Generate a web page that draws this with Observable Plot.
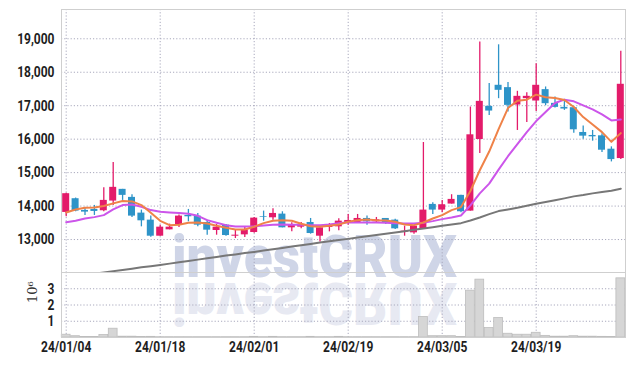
<!DOCTYPE html>
<html><head><meta charset="utf-8">
<script src="https://cdn.jsdelivr.net/npm/d3@7"></script>
<script src="https://cdn.jsdelivr.net/npm/@observablehq/plot@0.6"></script>
<style>
body{margin:0;background:#fff;}
#wrap{position:relative;width:634px;height:366px;overflow:hidden;background:#fff;}
#wm{position:absolute;left:0;top:0;}
#main,#vol{position:absolute;left:0;}
#main{top:0;} #vol{top:272px;}
</style></head><body>
<div id="wrap">
<svg id="wm" width="634" height="366">
  <text x="172" y="277" textLength="285" lengthAdjust="spacingAndGlyphs" font-family="Roboto" font-weight="900" font-size="60" fill="#cfd5e7">investCRUX</text>
  <text transform="translate(0,560) scale(1,-1)" x="172" y="277" textLength="285" lengthAdjust="spacingAndGlyphs" font-family="Roboto" font-weight="900" font-size="60" fill="#e7e9f2">investCRUX</text>
</svg>
<div id="main"></div><div id="vol"></div>
</div>
<script>
const dates = ["24/01/04","24/01/05","24/01/08","24/01/09","24/01/10","24/01/11","24/01/12","24/01/15","24/01/16","24/01/17",
"24/01/18","24/01/19","24/01/22","24/01/23","24/01/24","24/01/25","24/01/26","24/01/29","24/01/30","24/01/31",
"24/02/01","24/02/02","24/02/05","24/02/06","24/02/07","24/02/08","24/02/13","24/02/14","24/02/15","24/02/16",
"24/02/19","24/02/20","24/02/21","24/02/22","24/02/23","24/02/26","24/02/27","24/02/28","24/02/29","24/03/04",
"24/03/05","24/03/06","24/03/07","24/03/08","24/03/11","24/03/12","24/03/13","24/03/14","24/03/15","24/03/18",
"24/03/19","24/03/20","24/03/21","24/03/22","24/03/25","24/03/26","24/03/27","24/03/28","24/03/29","24/04/01"];

const opens = [13810,14220,13870,13900,13860,14150,14500,14260,13790,13580,
13100,13290,13430,13720,13700,13510,13270,13430,13100,13140,
13210,13680,13650,13760,13350,13370,13510,13100,13360,13380,
13480,13500,13630,13530,13630,13580,13210,13200,13300,14050,
13880,14060,14320,13850,15990,16980,17610,17540,17020,17210,
17140,17480,17070,16950,16940,16200,16110,16100,15700,15420];
const highs = [14380,14240,13950,14020,14550,15300,14500,14340,13880,13700,
13430,13460,13730,13900,13780,13580,13450,13450,13300,13380,
13660,13850,13920,13830,13500,13510,13630,13350,13480,13620,
13750,13750,13700,13660,13630,13610,13400,13400,15900,14100,
14170,14340,14320,16960,18900,17660,18820,17690,17430,17390,
18250,17560,17260,17190,16960,16390,16260,16160,15770,18630];
const lows = [13680,13830,13720,13720,13830,14020,14170,13660,13380,13070,
13100,13290,13360,13530,13380,13130,13130,13100,13030,13060,
13190,13550,13580,13350,13230,13320,13160,12930,13230,13260,
13430,13500,13430,13500,13450,13300,13100,13160,13300,13750,
13800,14060,13800,13850,15570,16710,17210,16810,16260,16500,
16830,17000,16930,16860,16180,16000,15940,15600,15320,15390];
const closes = [14370,13850,13820,13840,14170,14560,14320,13700,13560,13100,
13370,13370,13700,13680,13430,13280,13370,13120,13130,13280,
13640,13660,13780,13350,13430,13430,13180,13350,13400,13550,
13570,13630,13530,13590,13500,13320,13250,13400,13880,13880,
14040,14200,13830,16130,17130,16840,17460,17010,17280,17280,
17610,17060,16950,16900,16280,16090,16070,15670,15390,17640];
const ma5 = [13810,13900,13950,13960,14000,14080,14150,14140,14030,13800,
13560,13430,13440,13500,13510,13480,13410,13350,13300,13300,
13380,13490,13560,13580,13560,13470,13400,13380,13410,13450,
13530,13580,13600,13580,13570,13530,13450,13430,13510,13630,
13730,13880,13970,14450,15070,15630,16300,16930,17150,17180,
17330,17250,17230,17170,16960,16660,16440,16210,15920,16180];
const ma10 = [13520,13560,13630,13670,13730,13900,14030,14050,13980,13880,
13830,13810,13790,13770,13710,13580,13500,13430,13390,13390,
13400,13420,13440,13450,13440,13440,13430,13430,13450,13490,
13520,13510,13510,13510,13500,13490,13480,13480,13500,13550,
13610,13660,13720,14020,14380,14670,15090,15490,15850,16210,
16540,16810,17080,17180,17130,17010,16890,16740,16560,16590];
const ma60 = [11860,11900,11940,11980,12015,12055,12090,12130,12170,12205,
12240,12280,12320,12360,12400,12440,12480,12520,12555,12595,
12630,12670,12710,12750,12790,12830,12870,12910,12950,12985,
13020,13060,13100,13135,13175,13210,13250,13290,13330,13370,
13410,13450,13490,13570,13660,13760,13850,13900,13950,14010,
14070,14120,14175,14230,14290,14330,14380,14420,14460,14520];
const volumes = [0.17,0.08,0.03,0.03,0.15,0.54,0.05,0.05,0.03,0.04,
0.02,0.02,0.02,0.02,0.02,0.02,0.02,0.02,0.02,0.02,
0.04,0.02,0.04,0.02,0.02,0.02,0.04,0.02,0.02,0.04,
0.02,0.02,0.02,0.02,0.02,0.02,0.02,0.02,1.26,0.08,
0.08,0.08,0.03,2.88,3.56,0.58,1.20,0.23,0.17,0.17,
0.29,0.10,0.05,0.05,0.08,0.05,0.05,0.04,0.03,3.64];

const tickDates = ["24/01/04","24/01/18","24/02/01","24/02/19","24/03/05","24/03/19"];
const priceTicks = [13000,14000,15000,16000,17000,18000,19000];
const volTicks = [1,2,3];
const volLabel = "10⁶";

const rows = dates.map((d,i)=>({date:d, open:opens[i], high:highs[i], low:lows[i], close:closes[i],
  ma5:ma5[i], ma10:ma10[i], ma60:ma60[i], vol:volumes[i]}));
const RED = "#e31b6a", BLUE = "#2e94c8";
const col = d => d.close >= d.open ? RED : BLUE;
const FONT = "Roboto, sans-serif";
const GRID = {stroke:"#a9a9bd", strokeDasharray:"1.2,2", strokeWidth:1};
const baseStyle = {background:"transparent", fontFamily:FONT, fontSize:"15px", fontWeight:"bold", color:"#1e1e1e", overflow:"visible"};

function condense(svg){
  d3.select(svg).selectAll("text").each(function(){
    if (this.textContent === volLabel) return;
    const t = this.getAttribute("transform") || "";
    this.setAttribute("transform", (t + " scale(0.8,1)").trim());
  });
}

const main = Plot.plot({
  width:634, height:272, marginLeft:61, marginRight:9, marginTop:9, marginBottom:0,
  style: baseStyle,
  x:{type:"band", domain:dates, padding:0, round:false, axis:null},
  y:{domain:[12015,19875], ticks:priceTicks, tickFormat:d3.format(","), tickSize:0, tickPadding:7, label:null},
  marks:[
    Plot.ruleY(priceTicks, GRID),
    Plot.ruleX(tickDates, GRID),
    Plot.ruleX(rows, {x:"date", y1:"low", y2:"high", stroke:col, strokeWidth:1.3}),
    Plot.barY(rows, {x:"date", y1:"open", y2:"close", fill:col, insetLeft:1.2, insetRight:1.2}),
    Plot.line(rows, {x:"date", y:"ma60", stroke:"#777777", strokeWidth:2, clip:true}),
    Plot.line(rows, {x:"date", y:"ma10", stroke:"#cc55ea", strokeWidth:2}),
    Plot.line(rows, {x:"date", y:"ma5", stroke:"#ef8248", strokeWidth:2}),
    Plot.frame({stroke:"#cfcfcf"})
  ]
});
condense(main);
document.getElementById("main").appendChild(main);

const vol = Plot.plot({
  width:634, height:94, marginLeft:61, marginRight:9, marginTop:0, marginBottom:29,
  style: baseStyle,
  x:{type:"band", domain:dates, padding:0, round:false, ticks:tickDates, tickSize:0, tickPadding:4, label:null},
  y:{domain:[0,4], ticks:volTicks, tickFormat:d3.format("d"), tickSize:0, tickPadding:7, label:null},
  marks:[
    Plot.ruleY(volTicks, GRID),
    Plot.ruleX(tickDates, GRID),
    Plot.barY(rows, {x:"date", y:"vol", fill:"#d6d6d6", stroke:"#bdbdbd", strokeWidth:0.8, insetLeft:0.3, insetRight:0.3}),
    Plot.frame({stroke:"#cfcfcf"}),
    Plot.text([volLabel], {frameAnchor:"left", dx:-29, dy:-2, rotate:-90, text:d=>d, fontFamily:"'DejaVu Serif',serif", fontSize:13, fontWeight:"normal", fill:"#333"})
  ]
});
condense(vol);
document.getElementById("vol").appendChild(vol);
</script>
</body></html>
